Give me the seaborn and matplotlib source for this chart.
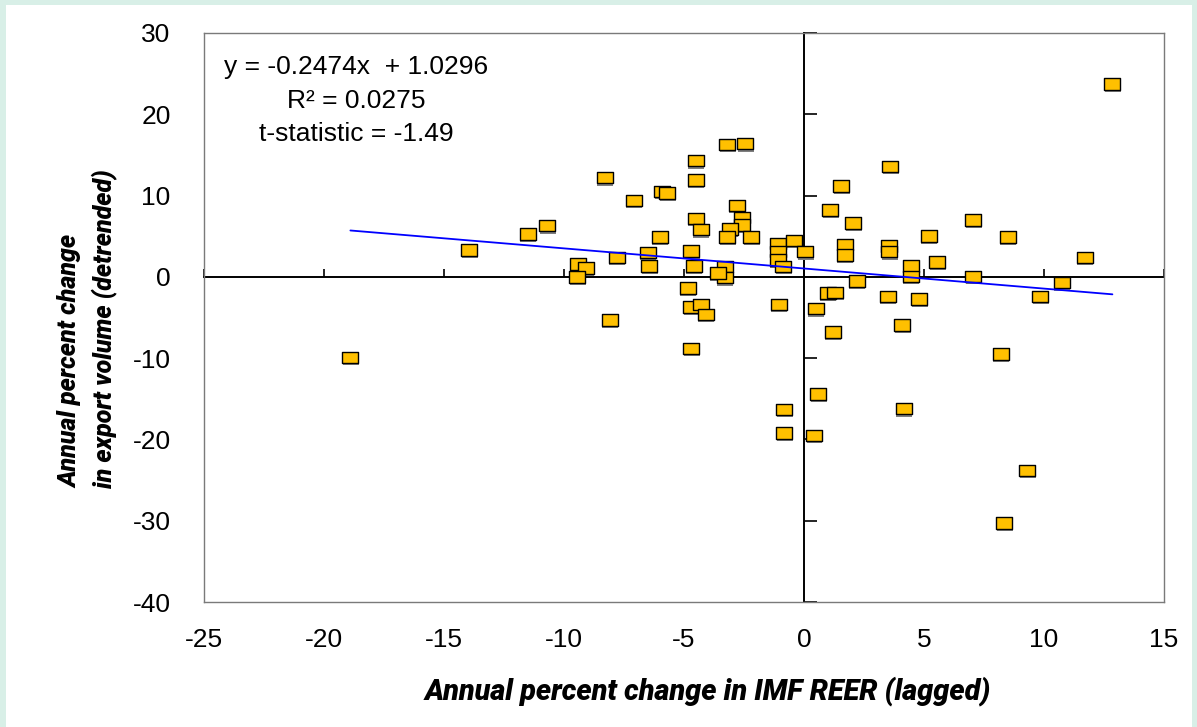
import numpy as np
import pandas as pd
import matplotlib
matplotlib.use("Agg")
import matplotlib.pyplot as plt
import seaborn as sns
from matplotlib.path import Path
from matplotlib.patches import Rectangle
import matplotlib.patheffects as pe

# ---------------- data ----------------
reer_change = [-18.9, -13.95, -11.5, -10.7, -9.4, -9.1, -9.45, -8.3, -8.1, -7.8,
               -7.1, -6.5, -6.45, -6.0, -5.9, -5.7, -4.85, -4.7, -4.6, -4.7,
               -4.7, -4.5, -4.5, -4.5, -4.3, -4.3, -4.1, -3.2, -2.45, -2.8,
               -2.6, -2.6, -3.1, -3.2, -2.2, -3.3, -3.3, -3.6, -1.05, -1.1,
               -1.1, -1.1, -0.86, -0.4, 0.05, 0.5, 1.0, 1.3, 1.2, 0.6,
               -0.82, -0.82, 0.42, 3.6, 1.55, 1.1, 2.05, 1.7, 1.7, 3.55,
               3.55, 7.05, 8.5, 5.2, 4.45, 4.45, 5.55, 2.2, 7.05, 3.5,
               4.8, 4.1, 9.85, 12.85, 11.7, 10.75, 8.2, 4.15, 9.3, 8.35]
export_change = [-9.9, 3.3, 5.3, 6.3, 1.6, 1.1, 0.0, 12.2, -5.3, 2.4,
                 9.4, 3.0, 1.35, 4.9, 10.5, 10.3, -1.4, 3.2, 1.35, -3.7,
                 -8.8, 14.3, 11.9, 7.2, 5.8, -3.4, -4.6, 16.3, 16.4, 8.8,
                 7.3, 6.4, 5.9, 4.9, 4.9, 1.3, -0.1, 0.5, -3.4, 4.1,
                 3.1, 2.1, 1.3, 4.5, 3.1, -3.9, -2.0, -1.9, -6.8, -14.4,
                 -16.3, -19.2, -19.5, 13.6, 11.2, 8.2, 6.6, 4.0, 2.7, 3.8,
                 3.1, 7.0, 4.9, 5.0, 1.35, 0.05, 1.8, -0.5, 0.05, -2.4,
                 -2.7, -5.9, -2.4, 23.7, 2.4, -0.7, -9.5, -16.2, -23.8, -30.3]
x_ticks = [-25, -20, -15, -10, -5, 0, 5, 10, 15]
y_ticks = [-40, -30, -20, -10, 0, 10, 20, 30]
slope = -0.2474
intercept = 1.0296
r_squared = 0.0275
t_statistic = -1.49

x_title = "Annual percent change in IMF REER (lagged)"
y_title = "Annual percent change\nin export volume (detrended)"

df = pd.DataFrame({"reer": reer_change, "export": export_change})

# ---------------- style ----------------
sns.set_theme(style="white")
plt.rcParams["font.family"] = ["Liberation Sans", "DejaVu Sans"]
plt.rcParams["axes.unicode_minus"] = False

W, H = 1197, 727
fig = plt.figure(figsize=(W / 100, H / 100), dpi=100)
fig.patch.set_facecolor("#d8efe7")
fig.add_artist(Rectangle((6 / W, 0), (1192 - 6) / W, 1 - 5 / H,
                         transform=fig.transFigure, facecolor="white",
                         edgecolor="none", zorder=0))

pos = [204 / W, 1 - 602 / H, 960 / W, 569 / H]

# axes carrying the zero lines and their ticks (drawn below the data)
ax0 = fig.add_axes(pos)
ax0.set_facecolor("white")
for s in ["top", "right"]:
    ax0.spines[s].set_visible(False)
ax0.spines["bottom"].set_position(("data", 0))
ax0.spines["left"].set_position(("data", 0))
for s in ["bottom", "left"]:
    ax0.spines[s].set_color("black")
    ax0.spines[s].set_linewidth(1.4)
ax0.set_xlim(x_ticks[0], x_ticks[-1])
ax0.set_ylim(y_ticks[0], y_ticks[-1])
ax0.set_xticks(x_ticks)
ax0.set_yticks(y_ticks)
ax0.tick_params(axis="x", direction="in", length=6, width=1.2, color="black",
                labelbottom=False, bottom=True)
ax0.tick_params(axis="y", direction="in", length=9, width=1.2, color="black",
                labelleft=False, left=True)

# main axes with data and labels
ax = fig.add_axes(pos, sharex=ax0, sharey=ax0)
ax.patch.set_visible(False)
for s in ax.spines.values():
    s.set_color("#7a7a7a")
    s.set_linewidth(1.0)

rect = Path([(-1, -0.72), (1, -0.72), (1, 0.72), (-1, 0.72), (-1, -0.72)],
            [Path.MOVETO, Path.LINETO, Path.LINETO, Path.LINETO, Path.CLOSEPOLY])
sns.scatterplot(data=df, x="reer", y="export", marker=rect, s=132,
                color="#FFC000", edgecolor="black", linewidth=1.0, ax=ax,
                zorder=3, legend=False)
pts = ax.collections[-1]
pts.set_path_effects([pe.SimplePatchShadow(offset=(0.3, -1.6), shadow_rgbFace="#7f7f7f", alpha=1.0),
                      pe.Normal()])

xs = np.array([min(reer_change), max(reer_change)])
sns.lineplot(x=xs, y=slope * xs + intercept, color="#0000ff", linewidth=1.3,
             ax=ax, zorder=4)

ax.set_xlim(x_ticks[0], x_ticks[-1])
ax.set_ylim(y_ticks[0], y_ticks[-1])
ax.set_xticks(x_ticks)
ax.set_yticks(y_ticks)
ax.tick_params(axis="both", length=0, labelsize=19, colors="black")
ax.tick_params(axis="x", pad=19)
ax.tick_params(axis="y", pad=24)

label_font = dict(fontweight=900, fontstyle="italic",
                  family=["Roboto", "Liberation Sans"], color="black")
ax.set_xlabel(x_title, fontsize=20.8, **label_font)
ax.set_ylabel(y_title, loc="bottom", linespacing=1.45, multialignment="left",
              fontsize=18, **label_font)
ax.xaxis.set_label_coords((708 - 204) / 960, (602 - 676) / 569)
ax.yaxis.set_label_coords((118 - 204) / 960, (602 - 488) / 569)

ax.text((356 - 204) / 960, (602 - 55) / 569,
        f"y = {slope:.4f}x  + {intercept:.4f}\nR² = {r_squared:.4f}\nt-statistic = {t_statistic:.2f}",
        transform=ax.transAxes, ha="center", va="top", multialignment="center",
        fontsize=19, linespacing=1.5, color="black")

fig.savefig("out.png", dpi=100, facecolor=fig.get_facecolor())
